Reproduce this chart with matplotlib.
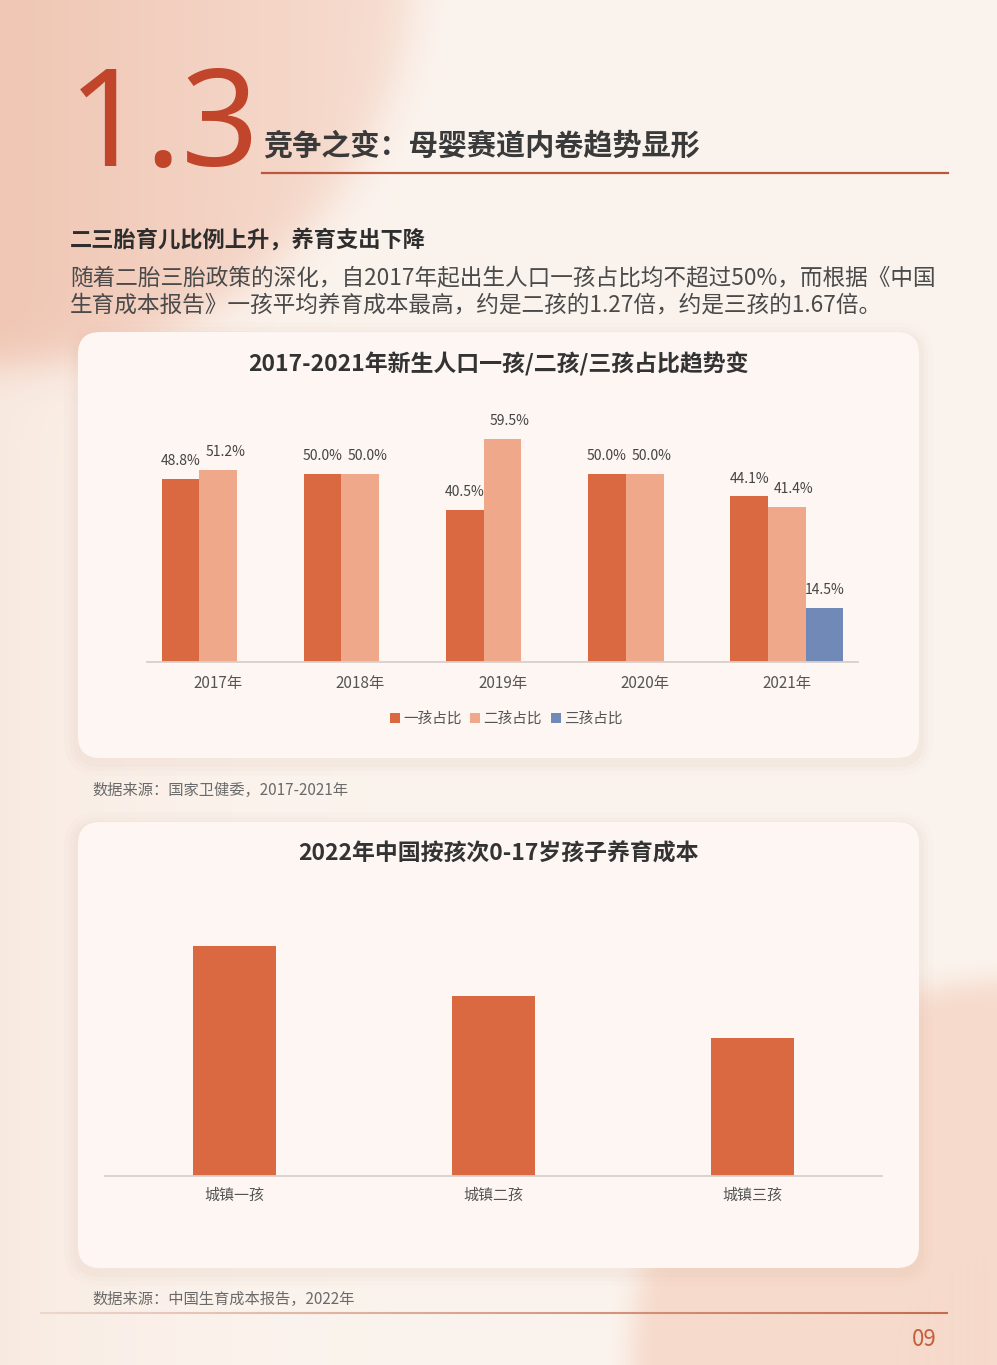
import numpy as np
import matplotlib
matplotlib.use("Agg")
from matplotlib import pyplot as plt
from matplotlib.patches import FancyBboxPatch
from matplotlib.collections import LineCollection

plt.rcParams['font.family'] = ['Noto Sans CJK SC', 'DejaVu Sans']

# data, chart 1
years = ['2017年', '2018年', '2019年', '2020年', '2021年']
first_child = [48.8, 50.0, 40.5, 50.0, 44.1]
second_child = [51.2, 50.0, 59.5, 50.0, 41.4]
third_child = [0, 0, 0, 0, 14.5]
series_names = ['一孩占比', '二孩占比', '三孩占比']

# data, chart 2 (relative cost, 城镇三孩 = 1)
cost_cats = ['城镇一孩', '城镇二孩', '城镇三孩']
cost_index = [1.67, 1.31, 1.00]

c1, c2, c3 = '#DA6840', '#EFA88A', '#7189B6'
W, H = 997, 1365

fig = plt.figure(figsize=(W / 100, H / 100), dpi=100)
bg = fig.add_axes([0, 0, 1, 1])
bg.set_xlim(0, W)
bg.set_ylim(H, 0)
bg.axis('off')

# page background
yy, xx = np.mgrid[0:H, 0:W].astype(float)
img = np.ones((H, W, 3)) * np.array([251, 244, 238]) / 255
left = np.exp(-xx / 140.0)[..., None] * 0.35
img = img * (1 - left) + np.array([244, 214, 198]) / 255 * left
d1 = np.hypot(xx - 0, yy + 50)
m1 = (1 / (1 + np.exp((d1 - 415) / 12.0)))[..., None]
tl = np.array([240, 198, 180]) / 255 * (1 - xx[..., None] / 550) + np.array([249, 230, 219]) / 255 * (xx[..., None] / 550)
img = img * (1 - m1) + np.clip(tl, 0, 1) * m1
d2 = np.hypot(xx - 1010, yy - 1360)
m2 = (1 / (1 + np.exp((d2 - 380) / 8.0)))[..., None]
img = img * (1 - m2) + np.array([246, 218, 203]) / 255 * m2
bg.imshow(img, extent=(0, W, H, 0), aspect='auto', zorder=0)

# header: big section number, one text per glyph to keep it tight
for ch, cx in [('1', 107), ('.', 162), ('3', 220)]:
    bg.text(cx, 166, ch, fontsize=98, color='#C0452A', family=['Noto Sans', 'DejaVu Sans'],
            va='baseline', ha='center')
bg.text(263, 145, '竞争之变：母婴赛道内卷趋势显形', fontsize=21, fontweight='bold',
        color='#3a3a3a', va='center', ha='left')
bg.plot([262, 948], [173, 173], color='#B9583D', lw=1.6)
bg.text(70, 240, '二三胎育儿比例上升，养育支出下降', fontsize=16, fontweight='bold',
        color='#2e2e2e', va='center', ha='left')
bg.text(70, 279, '随着二胎三胎政策的深化，自2017年起出生人口一孩占比均不超过50%，而根据《中国',
        fontsize=16.3, color='#4a4a4a', va='center', ha='left')
bg.text(70, 305, '生育成本报告》一孩平均养育成本最高，约是二孩的1.27倍，约是三孩的1.67倍。',
        fontsize=16.3, color='#4a4a4a', va='center', ha='left')


def card(x, y, w, h):
    for k, a in [(14, 0.03), (9, 0.04), (5, 0.05)]:
        bg.add_patch(FancyBboxPatch((x - k, y - k + 4), w + 2 * k, h + 2 * k,
                                    boxstyle='round,pad=0,rounding_size=%d' % (22 + k),
                                    fc='#D9A993', ec='none', alpha=a, zorder=1))
    bg.add_patch(FancyBboxPatch((x, y), w, h, boxstyle='round,pad=0,rounding_size=22',
                                fc='#FDF6F2', ec='none', zorder=2))


card(78, 332, 841, 426)
card(78, 822, 841, 446)

bg.text(498, 364, '2017-2021年新生人口一孩/二孩/三孩占比趋势变', fontsize=16.5,
        fontweight='bold', color='#333333', ha='center', va='center', zorder=3)
bg.text(92, 790, '数据来源：国家卫健委，2017-2021年', fontsize=11, color='#6a6a6a',
        ha='left', va='center', zorder=3)
bg.text(498, 854, '2022年中国按孩次0-17岁孩子养育成本', fontsize=16.5,
        fontweight='bold', color='#333333', ha='center', va='center', zorder=3)
bg.text(92, 1299, '数据来源：中国生育成本报告，2022年', fontsize=11, color='#6a6a6a',
        ha='left', va='center', zorder=3)

# bottom rule with gradient
xs = np.linspace(40, 948, 200)
segs = [[(xs[i], 1313), (xs[i + 1], 1313)] for i in range(len(xs) - 1)]
t = np.linspace(0, 1, len(segs))[:, None]
cols = np.array([236, 214, 204]) / 255 * (1 - t) + np.array([196, 108, 78]) / 255 * t
bg.add_collection(LineCollection(segs, colors=cols, linewidths=1.5, zorder=3))
bg.text(924, 1340, '09', fontsize=16, color='#C5603F', ha='center', va='center', zorder=3)

# chart 1
ax1 = fig.add_axes([147 / W, 1 - 662 / H, (858 - 147) / W, 244 / H])
ax1.patch.set_alpha(0)
x = np.arange(len(years))
bw = 0.265
for off, shift, vals, col, name in [(-bw, 0.0, first_child, c1, series_names[0]),
                                    (0, 0.05, second_child, c2, series_names[1]),
                                    (bw, 0.0, third_child, c3, series_names[2])]:
    ax1.bar(x + off, vals, width=bw, color=col, label=name, zorder=2)
    for xi, v in zip(x + off, vals):
        if v > 0:
            ax1.text(xi + shift, v + 2.9, '%.1f%%' % v, ha='center', va='bottom',
                     fontsize=10, color='#444444', clip_on=False)
ax1.set_xlim(-0.5, len(years) - 0.5)
ax1.set_ylim(0, 65)
ax1.set_yticks([])
ax1.set_xticks(x)
ax1.set_xticklabels(years, fontsize=11, color='#555555')
ax1.tick_params(axis='x', length=0, pad=9)
for s in ['top', 'right', 'left']:
    ax1.spines[s].set_visible(False)
ax1.spines['bottom'].set_color('#D8D0CC')
ax1.spines['bottom'].set_linewidth(1.3)
ax1.legend(ncol=3, loc='center', bbox_to_anchor=(0.505, -0.234), frameon=False,
           handlelength=0.7, handleheight=0.7, handletextpad=0.2, columnspacing=0.6,
           fontsize=10.5, labelcolor='#555555')

# chart 2
ax2 = fig.add_axes([105 / W, 1 - 1176 / H, (882 - 105) / W, 275.4 / H])
ax2.patch.set_alpha(0)
x2 = np.arange(len(cost_cats))
ax2.bar(x2, cost_index, width=0.317, color=c1, zorder=2)
ax2.set_xlim(-0.5, len(cost_cats) - 0.5)
ax2.set_ylim(0, 2.0)
ax2.set_yticks([])
ax2.set_xticks(x2)
ax2.set_xticklabels(cost_cats, fontsize=10.8, color='#555555')
ax2.tick_params(axis='x', length=0, pad=9)
for s in ['top', 'right', 'left']:
    ax2.spines[s].set_visible(False)
ax2.spines['bottom'].set_color('#D8D0CC')
ax2.spines['bottom'].set_linewidth(1.3)

fig.savefig('out.png', dpi=100)
